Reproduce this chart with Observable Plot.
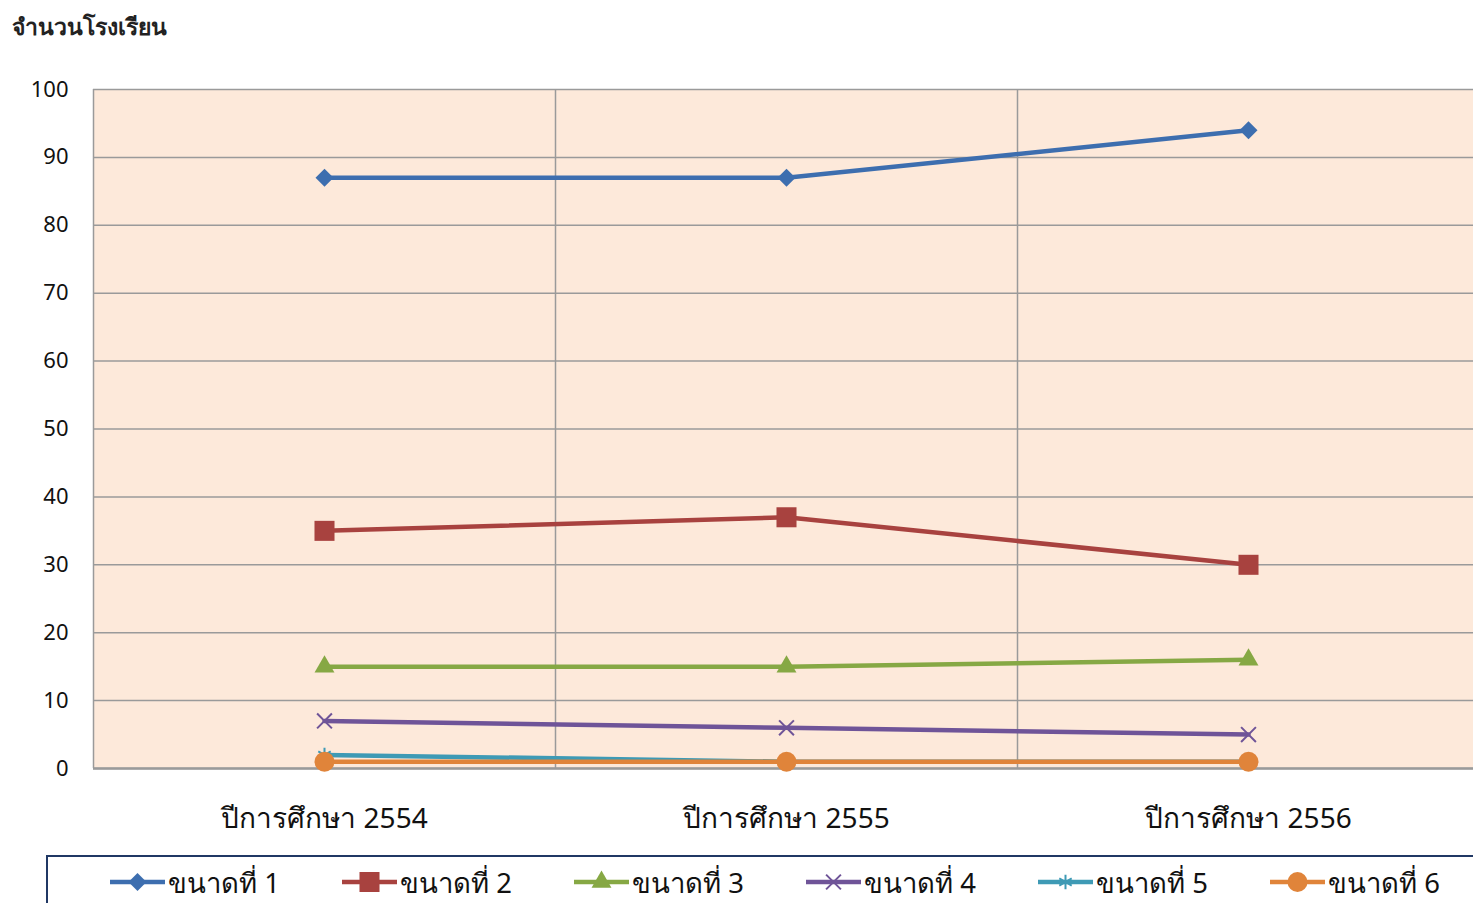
<!DOCTYPE html>
<html><head><meta charset="utf-8">
<script src="https://cdn.jsdelivr.net/npm/d3@7"></script>
<script src="https://cdn.jsdelivr.net/npm/@observablehq/plot@0.6"></script>
<style>
body{margin:0;background:#fff;font-family:"Noto Sans","DejaVu Sans",sans-serif;}
#wrap{position:relative;width:1473px;height:903px;overflow:hidden;}
#title{position:absolute;left:12px;top:9px;font-size:23px;font-weight:bold;color:#222;}
#chart{position:absolute;left:0;top:0;}
#legend{position:absolute;left:0;top:850px;}
</style></head><body>
<div id="wrap"><div id="chart"></div><div id="title">จำนวนโรงเรียน</div><div id="legend"></div></div>
<script>
// ---- data ----
const years = ["ปีการศึกษา 2554", "ปีการศึกษา 2555", "ปีการศึกษา 2556"];
const seriesNames = ["ขนาดที่ 1", "ขนาดที่ 2", "ขนาดที่ 3", "ขนาดที่ 4", "ขนาดที่ 5", "ขนาดที่ 6"];
const size1 = [87, 87, 94];
const size2 = [35, 37, 30];
const size3 = [15, 15, 16];
const size4 = [7, 6, 5];
const size5 = [2, 1, 1];
const size6 = [1, 1, 1];
const yTicks = [0, 10, 20, 30, 40, 50, 60, 70, 80, 90, 100];

// ---- styles ----
const colors = ["#3D6EAF", "#A8423F", "#86A844", "#6F5498", "#3E9AB5", "#E0843A"];
const symbols = ["diamond2", "square", "triangle", "times", "asterisk", "circle"];
const radii = [8.1, 11.3, 7.4, 6.8, 6.8, 10];
const filled = [true, true, true, false, false, true];

const allValues = [size1, size2, size3, size4, size5, size6];
const rows = [];
allValues.forEach((vals, s) => vals.forEach((v, i) => rows.push({series: seriesNames[s], s, xi: i + 0.5, value: v})));

const marks = [
  Plot.frame({fill: "#FDE9DA", stroke: null}),
  Plot.gridY(yTicks, {stroke: "#9a9a9a", strokeOpacity: 1, strokeWidth: 1.5}),
  Plot.gridX([1, 2], {stroke: "#9a9a9a", strokeOpacity: 1, strokeWidth: 1.5}),
  Plot.ruleX([0], {stroke: "#9a9a9a", strokeWidth: 1.5}),
  Plot.ruleY([0], {stroke: "#9a9a9a", strokeWidth: 2.5}),
  Plot.axisY(yTicks, {tickSize: 0, tickPadding: 25, fontSize: 22, fill: "#111", label: null}),
  Plot.axisX([0.5, 1.5, 2.5], {tickSize: 0, tickPadding: 40, fontSize: 28, fill: "#111", label: null,
    tickFormat: d => years[Math.floor(d)]})
];
seriesNames.forEach((name, s) => {
  const data = rows.filter(r => r.s === s);
  marks.push(Plot.line(data, {x: "xi", y: "value", stroke: colors[s], strokeWidth: 4.5}));
});
seriesNames.forEach((name, s) => {
  const data = rows.filter(r => r.s === s);
  marks.push(Plot.dot(data, {x: "xi", y: "value", symbol: () => symbols[s], r: radii[s],
    fill: filled[s] ? colors[s] : "none", stroke: colors[s], strokeWidth: filled[s] ? 0 : 2}));
});

const chart = Plot.plot({
  width: 1473, height: 850,
  marginLeft: 93, marginRight: 0, marginTop: 89, marginBottom: 82,
  style: {fontFamily: '"Noto Sans","DejaVu Sans",sans-serif', background: "transparent"},
  x: {domain: [0, 3], range: [93, 1479], axis: null},
  y: {domain: [0, 100], axis: null},
  symbol: {domain: symbols, range: symbols},
  marks
});
document.getElementById("chart").appendChild(chart);

// ---- legend ----
const lg = d3.select("#legend").append("svg").attr("width", 1473).attr("height", 53)
  .style("font-family", '"Noto Sans","DejaVu Sans",sans-serif');
lg.append("rect").attr("x", 47).attr("y", 6).attr("width", 1500).attr("height", 100)
  .attr("fill", "none").attr("stroke", "#203864").attr("stroke-width", 2);
const symMap = {diamond2: d3.symbolDiamond2, square: d3.symbolSquare, triangle: d3.symbolTriangle,
  times: d3.symbolTimes, asterisk: d3.symbolAsterisk, circle: d3.symbolCircle};
seriesNames.forEach((name, s) => {
  const g = lg.append("g").attr("transform", `translate(${110 + 232 * s},32)`);
  g.append("line").attr("x1", 0).attr("x2", 55).attr("stroke", colors[s]).attr("stroke-width", 4.5);
  g.append("path").attr("transform", "translate(27.5,0)")
    .attr("d", d3.symbol(symMap[symbols[s]], Math.PI * radii[s] * radii[s])())
    .attr("fill", filled[s] ? colors[s] : "none").attr("stroke", colors[s]).attr("stroke-width", filled[s] ? 0 : 2);
  g.append("text").attr("x", 58).attr("y", 11).attr("font-size", 27.5).attr("fill", "#111").text(name);
});
</script>
</body></html>
